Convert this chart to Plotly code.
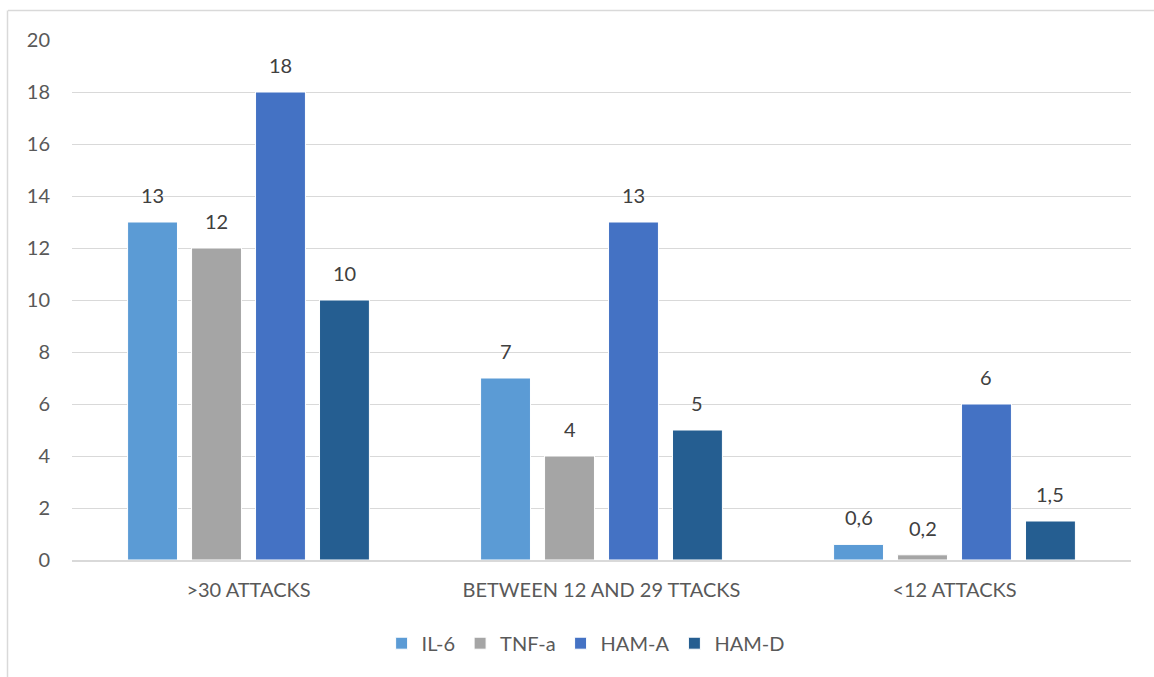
import plotly.graph_objects as go

categories = [">30 ATTACKS", "BETWEEN 12 AND 29 TTACKS", "<12 ATTACKS"]
series_names = ["IL-6", "TNF-a", "HAM-A", "HAM-D"]
il6 = [13, 7, 0.6]
tnfa = [12, 4, 0.2]
hama = [18, 13, 6]
hamd = [10, 5, 1.5]
colors = ["#5B9BD5", "#A5A5A5", "#4472C4", "#255E91"]

W, H = 1154, 677
L, R, T, B = 72, 23, 40, 117
FONT = "Lato"
FS = 20
TXT = "#595959"
BARGAP = 0.275

fig = go.Figure()
all_vals = [il6, tnfa, hama, hamd]
for name, vals, col in zip(series_names, all_vals, colors):
    fig.add_trace(go.Bar(
        name=name, x=categories, y=vals,
        marker=dict(color=col, line=dict(color="white", width=1)),
        cliponaxis=False,
    ))

pw = W - L - R
ph = H - T - B

# data labels above each bar (offset within group computed from bar layout)
slot = pw / len(categories) * (1 - BARGAP) / len(series_names)
for i, vals in enumerate(all_vals):
    for cat, v in zip(categories, vals):
        fig.add_annotation(
            x=cat, y=v, xref="x", yref="y", text=f"{v:g}".replace(".", ","),
            showarrow=False, xanchor="center", yanchor="bottom",
            xshift=(i - (len(series_names) - 1) / 2) * slot, yshift=13,
            font=dict(family=FONT, size=FS, color="#404040"),
        )

def px_x(p):
    return (p - L) / pw
def px_y(p):
    return (H - B - p) / ph

fig.add_shape(type="line", xref="paper", yref="paper",
              x0=px_x(8), x1=px_x(W + 5), y0=px_y(10.5), y1=px_y(10.5),
              line=dict(color="#D9D9D9", width=1.5))
fig.add_shape(type="line", xref="paper", yref="paper",
              x0=px_x(7.5), x1=px_x(7.5), y0=px_y(10.5), y1=px_y(H + 5),
              line=dict(color="#D9D9D9", width=1.5))

fig.update_layout(
    width=W, height=H,
    margin=dict(l=L, r=R, t=T, b=B),
    paper_bgcolor="white", plot_bgcolor="white",
    barmode="group", bargap=BARGAP, bargroupgap=0.22,
    font=dict(family=FONT, size=FS, color=TXT),
    showlegend=True,
    legend=dict(orientation="h", x=0.485, xanchor="center", y=-0.16, yanchor="middle",
                font=dict(family=FONT, size=FS, color=TXT), itemwidth=30),
    xaxis=dict(showline=True, linecolor="#D9D9D9", linewidth=1.5, ticks="",
               ticklabelstandoff=11,
               tickfont=dict(family=FONT, size=FS, color=TXT), showgrid=False),
    yaxis=dict(range=[0, 20], dtick=2, showgrid=True, gridcolor="#D9D9D9", gridwidth=1.3,
               zeroline=False, ticks="", ticklabelstandoff=21,
               tickfont=dict(family=FONT, size=FS, color=TXT)),
)

fig.write_html("out.html")
